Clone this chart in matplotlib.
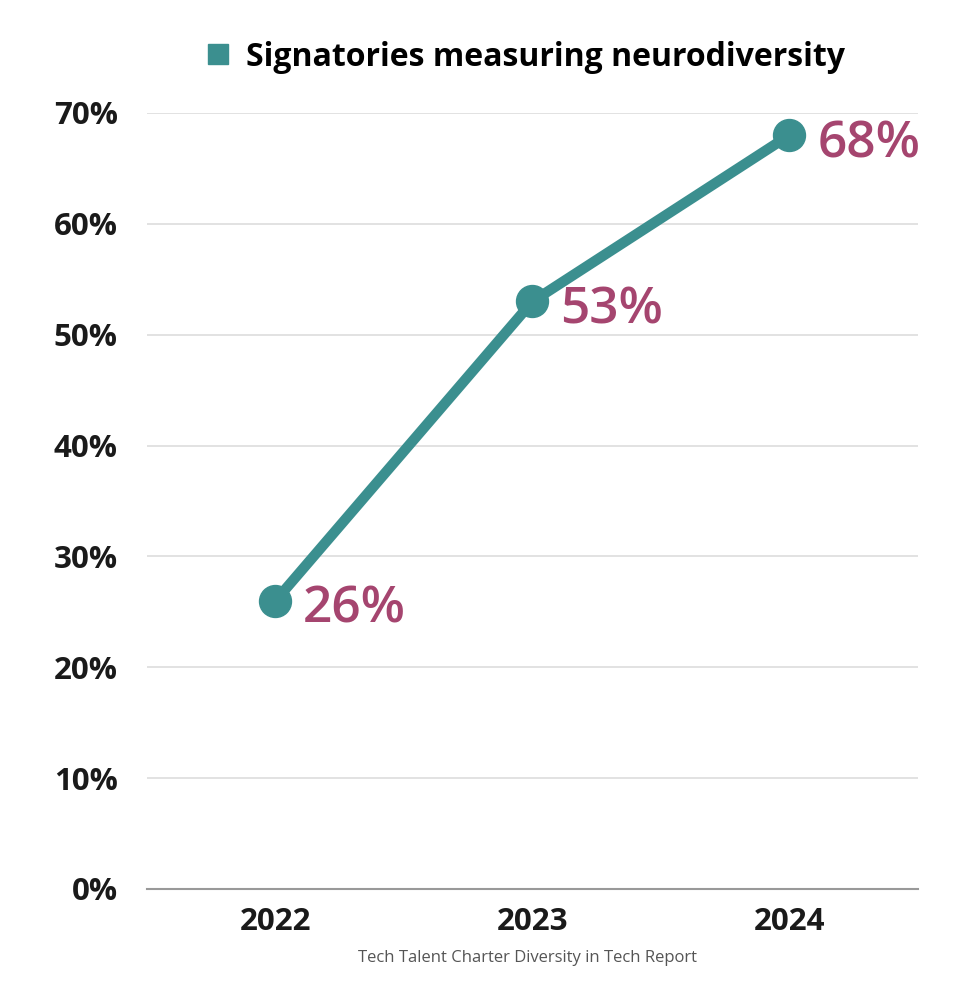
import matplotlib.pyplot as plt
from matplotlib.lines import Line2D

years = ['2022', '2023', '2024']
values = [26, 53, 68]
label_texts = ['26%', '53%', '68%']
y_ticks = [0, 10, 20, 30, 40, 50, 60, 70]
series_name = 'Signatories measuring neurodiversity'
source_note = 'Tech Talent Charter Diversity in Tech Report'

teal = '#3b8f8f'
plum = '#a5456f'

plt.rcParams['font.family'] = ['Open Sans', 'DejaVu Sans']

fig = plt.figure(figsize=(9.72, 10), dpi=100)
ax = fig.add_axes([0.1512, 0.111, 0.7932, 0.776])

x = list(range(len(years)))
ax.plot(x, values, color=teal, linewidth=7.5, marker='o', markersize=23,
        solid_capstyle='round', zorder=3)

for xi, v, t in zip(x, values, label_texts):
    ax.annotate(t, (xi, v), xytext=(20, -6.5), textcoords='offset points',
                ha='left', va='center', fontsize=37, fontweight='semibold',
                color=plum, zorder=4)

ax.set_xlim(-0.5, 2.5)
ax.set_ylim(0, 70)
ax.set_yticks(y_ticks)
ax.set_yticklabels([f'{t}%' for t in y_ticks])
ax.set_xticks(x)
ax.set_xticklabels(years)

ax.tick_params(axis='y', length=0, pad=21, labelsize=22.5, labelcolor='#1a1a1a')
ax.tick_params(axis='x', length=0, pad=13, labelsize=22.5, labelcolor='#1a1a1a')
for lbl in ax.get_xticklabels() + ax.get_yticklabels():
    lbl.set_fontweight('bold')

ax.grid(axis='y', color='#dddddd', linewidth=1.2, zorder=0)
for side in ['top', 'right', 'left']:
    ax.spines[side].set_visible(False)
ax.spines['bottom'].set_color('#999999')
ax.spines['bottom'].set_linewidth(1.5)
ax.set_axisbelow(True)

handle = Line2D([], [], linestyle='none', marker='s', markersize=14,
                color=teal)
fig.legend([handle], [series_name], loc='center', bbox_to_anchor=(0.537, 0.943),
           frameon=False, handletextpad=0.3, handlelength=1.2,
           prop={'size': 23, 'weight': 'bold'})

fig.text(0.543, 0.042, source_note, ha='center', va='center', fontsize=12,
         color='#555555')

fig.savefig('out.png', dpi=100, facecolor='white')
